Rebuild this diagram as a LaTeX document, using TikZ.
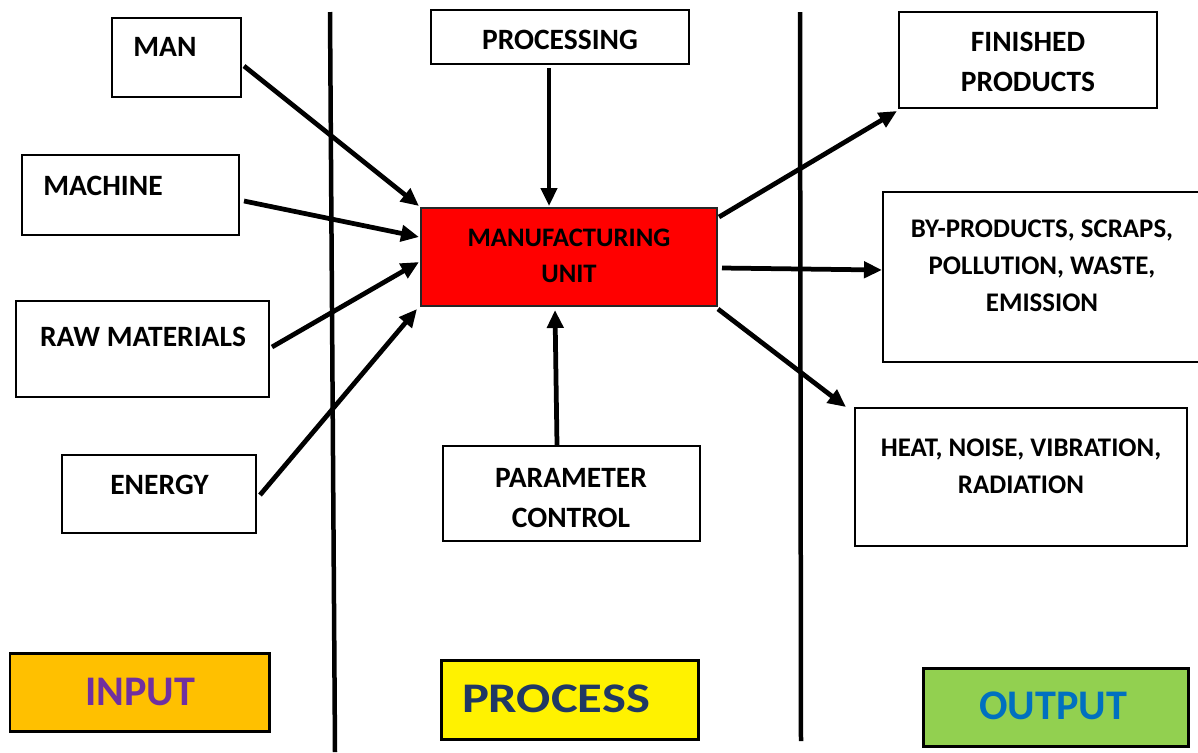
\documentclass[tikz,border=0pt]{standalone}
\usepackage{fontspec}
\setmainfont{Carlito}
\usetikzlibrary{arrows.meta,fit,calc}
\definecolor{mured}{HTML}{FF0000}
\definecolor{inorange}{HTML}{FFC000}
\definecolor{inpurple}{HTML}{7030A0}
\definecolor{prnavy}{HTML}{203864}
\definecolor{outgreen}{HTML}{92D050}
\definecolor{outblue}{HTML}{0070C0}
\begin{document}
\begin{tikzpicture}[x=0.02cm,y=-0.02cm,
  box/.style={draw=black,line width=0.04cm,inner sep=0pt,fill=white},
  stagebox/.style={draw=black,line width=0.06cm,inner sep=0pt},
  lbl/.style={font=\bfseries\fontsize{16.8}{22.7}\selectfont,align=center,inner sep=0pt},
  slbl/.style={font=\bfseries\fontsize{15.3}{21}\selectfont,align=center,inner sep=0pt},
  biglbl/.style={font=\bfseries\fontsize{24}{28}\selectfont,inner sep=0pt},
  flow/.style={line width=0.095cm,-{Triangle[length=0.36cm,width=0.32cm]}},
  divider/.style={line width=0.09cm}]
\useasboundingbox (0,0) rectangle (1198,752);

% stage dividers
\draw[divider] (330,12) -- (335,752);
\draw[divider] (800,12) -- (801,741);

% inputs
\node[box,fit={(112,18) (241,97)}] (man) {};
\node[lbl] (manT) at (165,47) {MAN};
\node[box,fit={(22,155) (239,235)}] (machine) {};
\node[lbl] (machineT) at (103,186) {MACHINE};
\node[box,fit={(16,301) (269,397)}] (raw) {};
\node[lbl] (rawT) at (143,337) {RAW MATERIALS};
\node[box,fit={(62,455) (256,533)}] (energy) {};
\node[lbl] (energyT) at (159.5,485) {ENERGY};

% process
\node[box,fit={(431,10) (689,64)}] (proc) {};
\node[lbl] (procT) at (560,40) {PROCESSING};
\node[draw=black!85,line width=0.04cm,inner sep=0pt,fill=mured,fit={(421,208) (717,306)}] (mu) {};
\node[font=\bfseries\fontsize{15.2}{20.4}\selectfont,align=center,inner sep=0pt] (muT) at (569,256) {MANUFACTURING\\UNIT};
\node[box,fit={(443,446) (700,541)}] (param) {};
\node[lbl] (paramT) at (571,498) {PARAMETER\\CONTROL};

% outputs
\node[box,fit={(899,12) (1157,108)}] (fin) {};
\node[lbl] (finT) at (1028,62) {FINISHED\\PRODUCTS};
\node[box,fit={(883,192) (1210,362)}] (byp) {};
\node[slbl] (bypT) at (1042,266) {BY-PRODUCTS, SCRAPS,\\POLLUTION, WASTE,\\EMISSION};
\node[box,fit={(855,408) (1187,546)}] (heat) {};
\node[slbl] (heatT) at (1021,466) {HEAT, NOISE, VIBRATION,\\RADIATION};

% stage labels
\node[stagebox,fill=inorange,fit={(10,653) (269,731)}] (input) {};
\node[biglbl,text=inpurple] (inputT) at (140,692) {INPUT};
\node[stagebox,fill=yellow,fit={(441,660) (698,739)}] (process) {};
\node[biglbl,text=prnavy] (processT) at (556,699) {\scalebox{1.2}[1]{PROCESS}};
\node[stagebox,fill=outgreen,fit={(923,668) (1188,746)}] (output) {};
\node[biglbl,text=outblue] (outputT) at (1053,706) {OUTPUT};

% flows into the manufacturing unit
\draw[flow] ($(man.east)+(2,8.5)$) -- ($(mu.north west)+(-1,-1)$);
\draw[flow] ($(machine.east)+(4,6)$) -- ($(mu.west)+(-1,-20)$);
\draw[flow] ($(raw.east)+(2,-2)$) -- ($(mu.west)+(-1,5)$);
\draw[flow] ($(energy.east)+(3,1)$) -- ($(mu.south west)+(-3,2)$);
\draw[flow] ($(proc.south)+(-11,3)$) -- ($(mu.north)+(-20,-1)$);
\draw[flow] ($(param.north)+(-14.5,0)$) -- ($(mu.south)+(-14,3)$);

% flows out of the manufacturing unit
\draw[flow] ($(mu.north east)+(1,10)$) -- ($(fin.south west)+(-1,2)$);
\draw[flow] ($(mu.east)+(4,11)$) -- ($(byp.west)+(0,-7)$);
\draw[flow] ($(mu.south east)+(0,2)$) -- ($(heat.north west)+(-8,0)$);
\end{tikzpicture}
\end{document}
